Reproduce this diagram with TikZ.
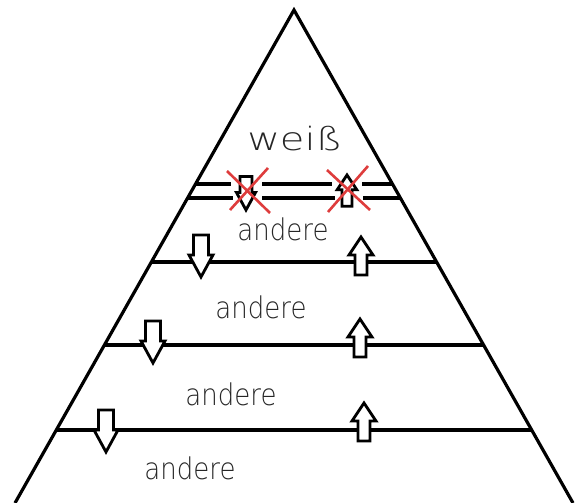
\documentclass[tikz,border=0pt]{standalone}
\usepackage{fontspec}
\newfontfamily\handfont{DejaVu Sans ExtraLight}
\usetikzlibrary{calc}
\tikzset{
  edge/.style={line width=3.2pt, line join=miter},
  blockarrow/.style={line width=2.8pt, fill=white, draw=black, line join=miter},
  cross/.style={line width=2.6pt, draw={rgb,255:red,222;green,60;blue,60}},
  label/.style={font=\handfont, text=black!85, anchor=base, inner sep=0pt},
  pics/downarr/.style={code={
    \draw[blockarrow] (0,0) -- (-12,-22) -- (-7.5,-22) -- (-7.5,-42) -- (7.5,-42) -- (7.5,-22) -- (12,-22) -- cycle;}},
  pics/uparr/.style={code={
    \draw[blockarrow] (0,0) -- (-12,18) -- (-6,18) -- (-6,38) -- (6,38) -- (6,18) -- (12,18) -- cycle;}}
}
\begin{document}
\begin{tikzpicture}[x=1pt,y=-1pt]
\path[use as bounding box, fill=white] (0,0) rectangle (576,503);
% triangle
\coordinate (A) at (294,10);
\coordinate (L) at (15,503);
\coordinate (R) at (573,503);
\draw[edge] (L) -- (A) -- (R);
% level lines
\coordinate (l1) at ($(A)!0.5112!(L)$); \coordinate (r1) at ($(A)!0.5112!(R)$);
\coordinate (l2) at ($(A)!0.6795!(L)$); \coordinate (r2) at ($(A)!0.6795!(R)$);
\coordinate (l3) at ($(A)!0.8519!(L)$); \coordinate (r3) at ($(A)!0.8519!(R)$);
\draw[edge] (l1) -- (r1);
\draw[edge] (l2) -- (r2);
\draw[edge] (l3) -- (r3);
% double line (broken)
\coordinate (ta) at (195.5,184); \coordinate (tb) at (392.5,184);
\coordinate (ba) at (188.2,198); \coordinate (bb) at (399.8,198);
\draw[edge] (ta) -- (231,184);
\draw[edge] (262,184) -- (332,184);
\draw[edge] (362,184) -- (tb);
\draw[edge] (ba) -- (233,198);
\draw[edge] (262,198) -- (335,198);
\draw[edge] (363,198) -- (bb);
% top crossed arrows
\pic[scale=0.8] at (246,210) {downarr};
\pic[scale=0.82] at (347,175) {uparr};
\draw[cross] (227,171) -- (270,213);
\draw[cross] (268,168) -- (230,210);
\draw[cross] (327,170) -- (370,210);
\draw[cross] (368,166) -- (328,212);
% level arrows
\pic at (201,277) {downarr};
\pic at (361,237) {uparr};
\pic at (153,363) {downarr};
\pic at (360,319) {uparr};
\pic at (106,452) {downarr};
\pic at (364,403) {uparr};
% labels
\node[label, font=\handfont\fontsize{32}{32}\selectfont, xscale=1.25] (w) at (295,150) {weiß};
\node[label, font=\handfont\fontsize{26}{26}\selectfont, yscale=1.15] (a1) at (283,240) {andere};
\node[label, font=\handfont\fontsize{26}{26}\selectfont, yscale=1.15] (a2) at (261,318) {andere};
\node[label, font=\handfont\fontsize{26}{26}\selectfont, yscale=1.15] (a3) at (231,405) {andere};
\node[label, font=\handfont\fontsize{26}{26}\selectfont, yscale=1.15] (a4) at (190,479) {andere};
\end{tikzpicture}
\end{document}
